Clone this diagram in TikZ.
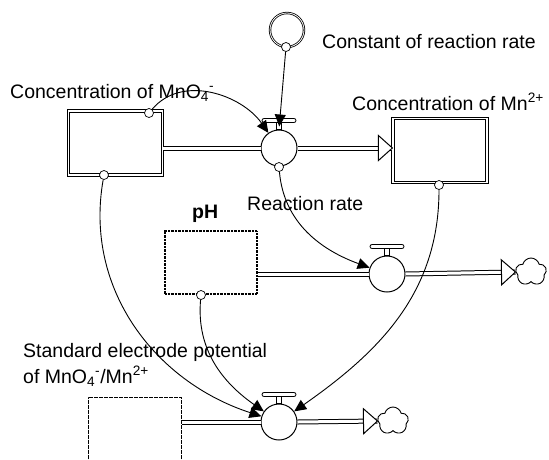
\documentclass[tikz,border=0pt]{standalone}
\usepackage{fontspec}
\setmainfont{Liberation Sans}
\usetikzlibrary{arrows.meta,calc,shapes.symbols,decorations.markings}
\tikzset{
    lbl/.style={font=\fontsize{19.5}{23}\selectfont, inner sep=0pt, anchor=base west},
    stock/.style={preaction={draw=black, line width=3.2pt}, draw=white, line width=1.2pt,
        minimum width=94pt, minimum height=64pt, inner sep=0pt},
    rough stock/.style={draw, line width=2.6pt, dash pattern=on 0.7pt off 0.7pt,
        minimum width=92pt, minimum height=63pt, inner sep=0pt},
    thin stock/.style={draw, line width=1pt, dash pattern=on 2pt off 0.5pt,
        minimum width=93pt, minimum height=84pt, inner sep=0pt},
    aux/.style={circle, draw, double, double distance=0.8pt, line width=0.8pt,
        minimum size=34pt, inner sep=0pt},
    valve/.style={circle, draw, line width=1pt, minimum size=36pt, inner sep=0pt, fill=white},
    tap/.style={circle, draw, line width=0.7pt, minimum size=9pt, inner sep=0pt, fill=white},
    sink/.style={cloud, cloud puffs=5, aspect=1, draw, line width=0.9pt,
        minimum width=31pt, minimum height=28pt, inner sep=0pt},
    pipe/.style={double, double distance=3pt, line width=1pt},
    pipe out/.style={pipe, postaction={decorate, decoration={markings,
        mark=at position 1 with {\draw[line width=1pt, fill=white]
            (0,0) -- (-14,12.5) -- (-14,-12.5) -- cycle;}}}},
    conn/.style={line width=0.9pt, -{Triangle[length=12pt, width=11pt]}}
}
% handle on top of a flow valve
\newcommand{\valvehandle}[1]{%
    \draw[line width=0.8pt, fill=white] ($(#1.north)+(-2.5,0)$) rectangle ($(#1.north)+(2.5,7)$);
    \draw[line width=0.8pt, fill=white, rounded corners=2pt]
        ($(#1.north)+(-17,7)$) rectangle ($(#1.north)+(17,11)$);
}

\begin{document}
\begin{tikzpicture}[x=1pt,y=1pt]
        \clip (0,0) rectangle (549,-459);

        % stocks
        \node[stock] (cmno) at (115.5,-143) {};
        \node[stock] (cmn) at (440,-150.5) {};
        \node[rough stock] (ph) at (211,-262.5) {};
        \node[thin stock] (sep) at (134.5,-439) {};

        % valves, auxiliary and sinks
        \node[aux] (kr) at (287,-30) {};
        \node[valve] (v1) at (279,-148) {};
        \node[valve] (v2) at (387,-274) {};
        \node[valve] (v3) at (279,-422) {};
        \node[sink] (cl1) at (531,-272) {};
        \node[sink] (cl2) at (393,-421) {};

        % labels
        \node[lbl] at (322,-48) {Constant of reaction rate};
        \node[lbl] at (10,-98) {Concentration of MnO\textsubscript{4}\textsuperscript{-}};
        \node[lbl] at (352,-110) {Concentration of Mn\textsuperscript{2+}};
        \node[lbl] at (247,-210) {Reaction rate};
        \node[lbl, font=\fontsize{19.5}{23}\selectfont\bfseries] at (192,-218) {pH};
        \node[lbl] at (23,-357) {Standard electrode potential};
        \node[lbl] at (23,-383) {of MnO\textsubscript{4}\textsuperscript{-}/Mn\textsuperscript{2+}};

        % pipes
        \draw[pipe] (cmno.east |- v1) -- (v1.west);
        \draw[pipe out] (v1.east) -- (cmn.west |- v1);
        \draw[pipe] (ph.east |- v2) -- (v2.west);
        \draw[pipe out] (v2.east) -- (cl1.west);
        \draw[pipe] (sep.east |- v3) -- (v3.west);
        \draw[pipe out] (v3.east) -- (cl2.west);

        \valvehandle{v1}
        \valvehandle{v2}
        \valvehandle{v3}

        % taps where the connectors leave
        \node[tap] (tk) at (286,-47) {};
        \node[tap] (tm1) at (149,-113) {};
        \node[tap] (tm2) at (104,-175) {};
        \node[tap] (tv) at (279,-167) {};
        \node[tap] (tn) at (439,-185) {};
        \node[tap] (tp) at (201,-295) {};

        % connectors
        \draw[conn, shorten >=3pt] (tk) -- (v1.north);
        \draw[conn] (tm1) to[out=50, in=125] (v1);
        \draw[conn] (tv) to[out=-85, in=160] (v2);
        \draw[conn] (tn) to[out=-90, in=35] (v3);
        \draw[conn] (tm2) to[out=-100, in=162] (v3);
        \draw[conn] (tp) to[out=-95, in=145] (v3);
\end{tikzpicture}
\end{document}
